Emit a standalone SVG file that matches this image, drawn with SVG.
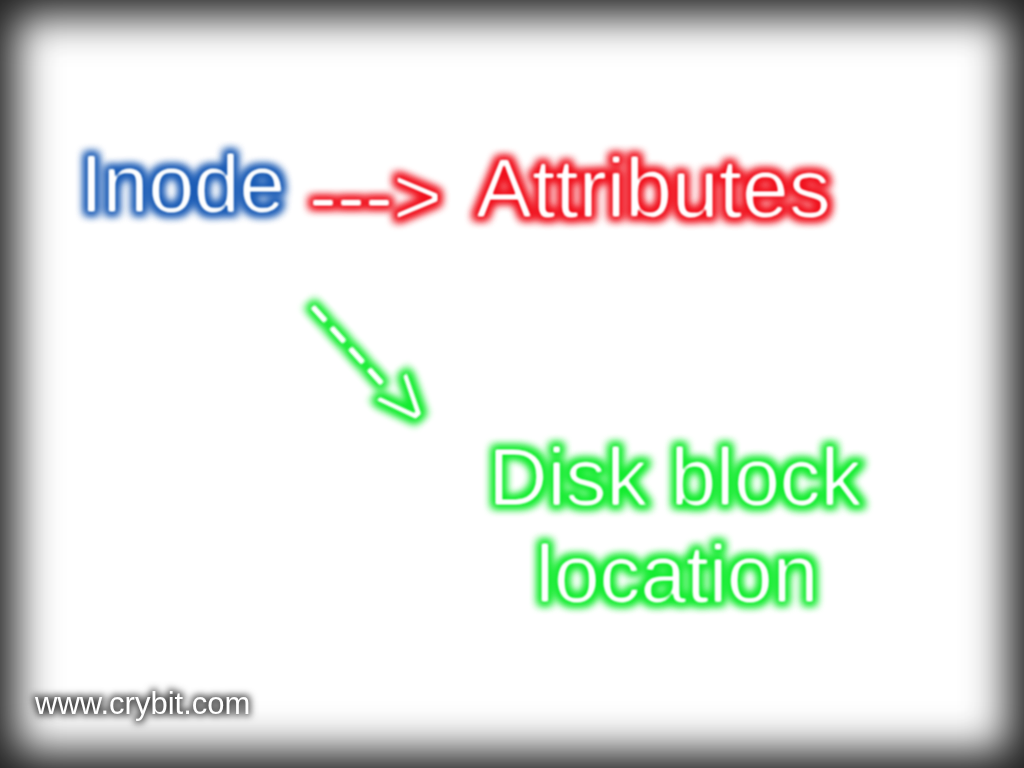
<svg xmlns="http://www.w3.org/2000/svg" width="1024" height="768" viewBox="0 0 1024 768">
  <defs>
    <style>
      .t { font-family: "Liberation Sans", Arial, sans-serif; fill: #ffffff; }
      .big { font-size: 84px; }
      .mid { font-size: 82px; }
      .wm { font-size: 31px; }
    </style>
    <filter id="vig" filterUnits="userSpaceOnUse" x="0" y="0" width="1024" height="768">
      <feGaussianBlur stdDeviation="21"/>
    </filter>
    <filter id="gBlue" x="-15%" y="-40%" width="130%" height="180%" color-interpolation-filters="sRGB">
      <feMorphology in="SourceAlpha" operator="dilate" radius="2.5" result="d"/>
      <feGaussianBlur in="d" stdDeviation="4.5" result="b"/>
      <feFlood flood-color="#1a5bb5" result="c"/>
      <feComposite in="c" in2="b" operator="in" result="glow"/>
      <feMorphology in="SourceAlpha" operator="erode" radius="0.5" result="e"/>
      <feGaussianBlur in="e" stdDeviation="0.9" result="eb"/>
      <feFlood flood-color="#ffffff"/>
      <feComposite in2="eb" operator="in" result="core"/>
      <feMerge><feMergeNode in="glow"/><feMergeNode in="glow"/><feMergeNode in="core"/><feMergeNode in="core"/></feMerge>
    </filter>
    <filter id="gRed" x="-15%" y="-40%" width="130%" height="180%" color-interpolation-filters="sRGB">
      <feMorphology in="SourceAlpha" operator="dilate" radius="2.5" result="d"/>
      <feGaussianBlur in="d" stdDeviation="4.5" result="b"/>
      <feFlood flood-color="#f0101c" result="c"/>
      <feComposite in="c" in2="b" operator="in" result="glow"/>
      <feMorphology in="SourceAlpha" operator="erode" radius="0.5" result="e"/>
      <feGaussianBlur in="e" stdDeviation="0.9" result="eb"/>
      <feFlood flood-color="#ffffff"/>
      <feComposite in2="eb" operator="in" result="core"/>
      <feMerge><feMergeNode in="glow"/><feMergeNode in="glow"/><feMergeNode in="core"/><feMergeNode in="core"/></feMerge>
    </filter>
    <filter id="gGreen" x="-15%" y="-40%" width="130%" height="180%" color-interpolation-filters="sRGB">
      <feMorphology in="SourceAlpha" operator="dilate" radius="2.5" result="d"/>
      <feGaussianBlur in="d" stdDeviation="4.5" result="b"/>
      <feFlood flood-color="#12ec2e" result="c"/>
      <feComposite in="c" in2="b" operator="in" result="glow"/>
      <feMorphology in="SourceAlpha" operator="erode" radius="0.5" result="e"/>
      <feGaussianBlur in="e" stdDeviation="0.9" result="eb"/>
      <feFlood flood-color="#ffffff"/>
      <feComposite in2="eb" operator="in" result="core"/>
      <feMerge><feMergeNode in="glow"/><feMergeNode in="glow"/><feMergeNode in="core"/><feMergeNode in="core"/></feMerge>
    </filter>
    <filter id="gGray" x="-15%" y="-60%" width="130%" height="220%" color-interpolation-filters="sRGB">
      <feMorphology in="SourceAlpha" operator="dilate" radius="1.5" result="d"/>
      <feGaussianBlur in="d" stdDeviation="3.5" result="b"/>
      <feFlood flood-color="#3a3a3a" flood-opacity="0.9" result="c"/>
      <feComposite in="c" in2="b" operator="in" result="glow"/>
      <feMerge><feMergeNode in="glow"/><feMergeNode in="SourceGraphic"/></feMerge>
    </filter>
  </defs>

  <g id="background">
    <rect x="0" y="0" width="1024" height="768" fill="#222222"/>
    <rect x="17" y="17" width="990" height="734" fill="#ffffff" filter="url(#vig)"/>
  </g>

  <g id="connectors">
    <text class="t big" x="309" y="225" filter="url(#gRed)">---&gt;</text>
    <g transform="translate(313,306) rotate(48)">
      <text class="t big" x="-4" y="23" filter="url(#gGreen)">----&gt;</text>
    </g>
  </g>

  <g id="inode">
    <text class="t mid" x="80" y="212" filter="url(#gBlue)">Inode</text>
  </g>

  <g id="attributes">
    <text class="t big" x="476" y="217" filter="url(#gRed)">Attributes</text>
  </g>

  <g id="disk-block-location">
    <text class="t mid" x="675" y="505" text-anchor="middle" filter="url(#gGreen)">Disk block</text>
    <text class="t mid" x="677" y="602" text-anchor="middle" filter="url(#gGreen)">location</text>
  </g>

  <g id="watermark">
    <text class="t wm" x="35" y="714" filter="url(#gGray)">www.crybit.com</text>
  </g>
</svg>
